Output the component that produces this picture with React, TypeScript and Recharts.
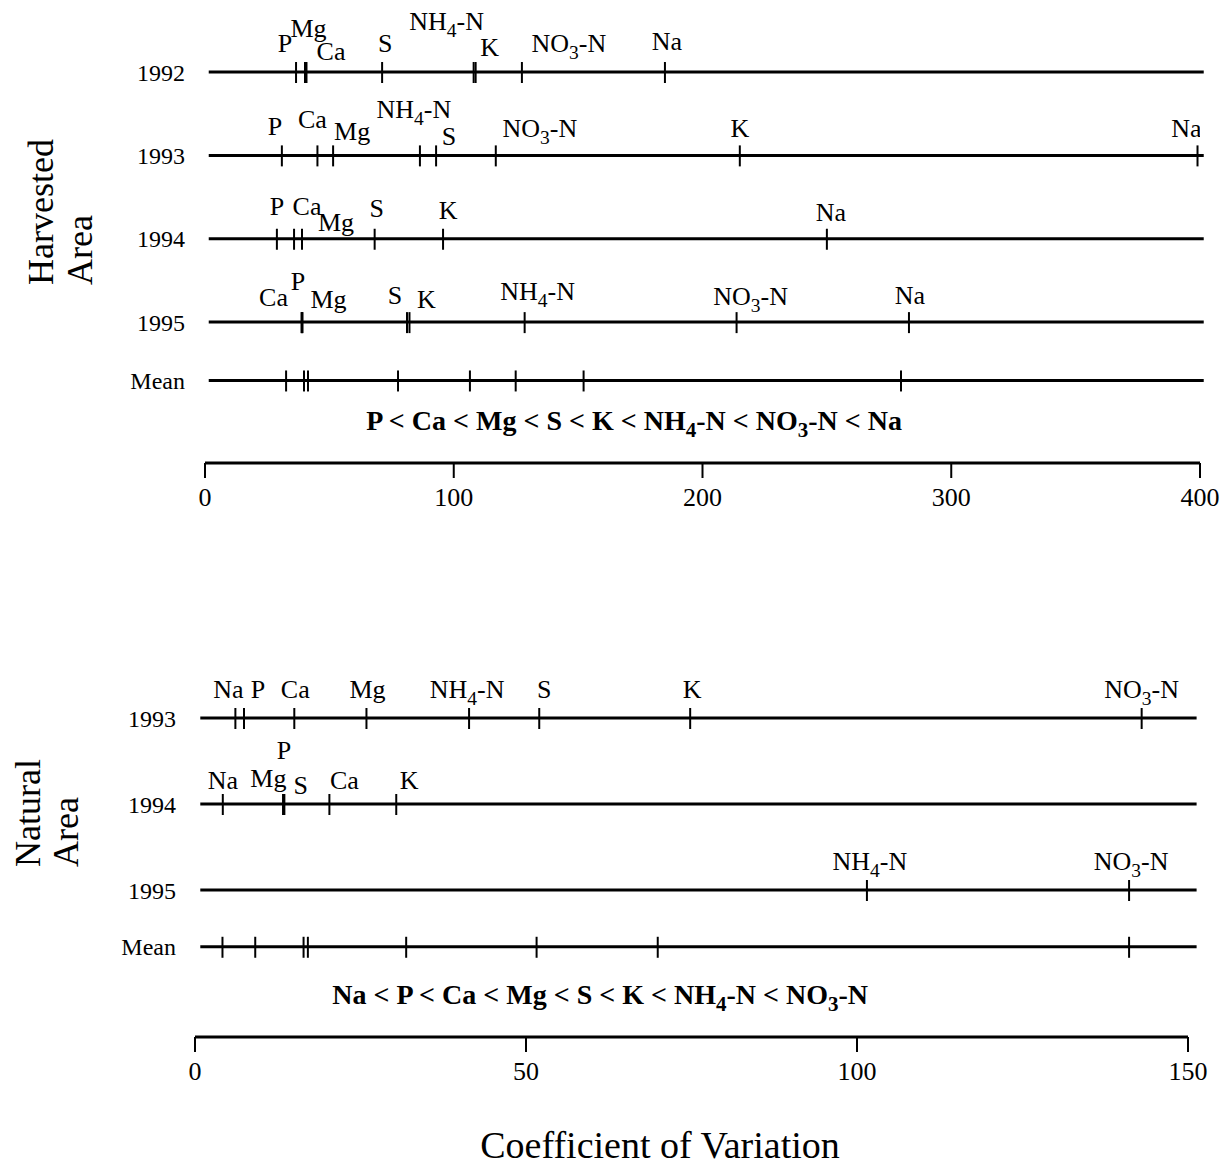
import React from 'react';
import { ScatterChart, Scatter, XAxis, YAxis, ReferenceLine, ReferenceDot } from 'recharts';

const FONT = '"Liberation Serif", "Times New Roman", serif';

// ---------- Harvested area data ----------
const harvestedElements = ['P', 'Ca', 'Mg', 'S', 'K', 'NH4-N', 'NO3-N', 'Na'];
const harvestedRows = ['1992', '1993', '1994', '1995', 'Mean'];
const harvested1992 = [36.6, 40.2, 40.8, 71.2, 108.8, 108.0, 127.4, 184.9];
const harvested1993 = [30.9, 45.2, 51.5, 92.9, 215.0, 86.4, 116.9, 399.0];
const harvested1994 = [28.9, 35.8, 39.0, 68.2, 95.7, null, null, 250.0];
const harvested1995 = [39.0, 38.8, 39.2, 81.2, 82.2, 128.5, 213.7, 283.0];
const harvestedMean = [32.6, 39.8, 41.4, 77.6, 106.5, 124.9, 152.2, 279.8];
const harvestedTicks = [0, 100, 200, 300, 400];
const harvestedRanking = ['P', 'Ca', 'Mg', 'S', 'K', 'NH4-N', 'NO3-N', 'Na'];

// ---------- Natural area data ----------
const naturalElements = ['Na', 'P', 'Ca', 'Mg', 'S', 'K', 'NH4-N', 'NO3-N'];
const naturalRows = ['1993', '1994', '1995', 'Mean'];
const natural1993 = [6.1, 7.4, 15.0, 25.9, 52.0, 74.8, 41.4, 143.0];
const natural1994 = [4.2, 13.3, 20.3, 13.5, 13.4, 30.4, null, null];
const natural1995 = [null, null, null, null, null, null, 101.5, 141.1];
const naturalMean = [4.15, 9.1, 16.4, 17.05, 31.9, 51.6, 69.9, 141.1];
const naturalTicks = [0, 50, 100, 150];
const naturalRanking = ['Na', 'P', 'Ca', 'Mg', 'S', 'K', 'NH4-N', 'NO3-N'];

// ---------- layout (not data) ----------
const harvestedSlots = [0, 1, 2, 3, 3.7];
const naturalSlots = [0, 1, 2, 2.66];

const harvestedLabelOffsets: Record<string, [number, number]> = {
  '1992|P': [-11, 0], '1992|Mg': [2, -15], '1992|Ca': [26, 8], '1992|S': [3, 0],
  '1992|NH4-N': [-27, -22], '1992|K': [14, 4], '1992|NO3-N': [47, 0], '1992|Na': [2, -2],
  '1993|P': [-7, 0], '1993|Ca': [-5, -7], '1993|Mg': [19, 5], '1993|NH4-N': [-6, -17],
  '1993|S': [13, 10], '1993|NO3-N': [44, 2], '1993|K': [0, 2], '1993|Na': [-11, 2],
  '1994|P': [0, -4], '1994|Ca': [13, -4], '1994|Mg': [34, 12], '1994|S': [2, -2],
  '1994|K': [5, 0], '1994|Na': [4, 2],
  '1995|Ca': [-28, 4], '1995|P': [-4, -12], '1995|Mg': [26, 6], '1995|S': [-12, 2],
  '1995|K': [17, 6], '1995|NH4-N': [13, -2], '1995|NO3-N': [14, 3], '1995|Na': [1, 2],
};

const naturalLabelOffsets: Record<string, [number, number]> = {
  '1993|Na': [-7, 0], '1993|P': [14, 0], '1993|Ca': [1, 0], '1993|Mg': [1, 0],
  '1993|NH4-N': [-2, 0], '1993|S': [5, 0], '1993|K': [2, 0], '1993|NO3-N': [0, 0],
  '1994|Na': [0, 5], '1994|Mg': [-16, 3], '1994|P': [1, -25], '1994|S': [17, 10],
  '1994|Ca': [15, 5], '1994|K': [13, 5],
  '1995|NH4-N': [3, 0], '1995|NO3-N': [2, 0],
};

function chem(name: string, sub = 7) {
  const m = name.match(/^(NH|NO)(\d)(-N)$/);
  if (!m) return name;
  return [
    <tspan key="a">{m[1]}</tspan>,
    <tspan key="b" dy={sub} fontSize="0.75em">{m[2]}</tspan>,
    <tspan key="c" dy={-sub}>{m[3]}</tspan>,
  ];
}

function buildRow(values: (number | null)[], elements: string[], slot: number) {
  const out: { x: number; y: number; el: string }[] = [];
  values.forEach((v, j) => {
    if (v !== null && v !== undefined) out.push({ x: v, y: slot, el: elements[j] });
  });
  return out;
}

function makeShape(row: string, offsets: Record<string, [number, number]>, showLabels: boolean) {
  return (props: any) => {
    const { cx, cy, payload } = props;
    if (cx == null || cy == null) return <g />;
    const off = offsets[`${row}|${payload.el}`] || [0, 0];
    return (
      <g>
        <line x1={cx} x2={cx} y1={cy - 10} y2={cy + 11} stroke="#000" strokeWidth={2} />
        {showLabels && (
          <text
            x={cx + off[0]}
            y={cy - 20 + off[1]}
            textAnchor="middle"
            fontSize={26}
            fontFamily={FONT}
            fill="#000"
          >
            {chem(payload.el)}
          </text>
        )}
      </g>
    );
  };
}

function rankingShape(items: string[]) {
  return (props: any) => {
    const { cx, cy } = props;
    const parts: any[] = [];
    items.forEach((it, i) => {
      if (i > 0) parts.push(<tspan key={`lt${i}`}>{' < '}</tspan>);
      const m = it.match(/^(NH|NO)(\d)(-N)$/);
      if (m) {
        parts.push(<tspan key={`a${i}`}>{m[1]}</tspan>);
        parts.push(<tspan key={`b${i}`} dy={7} fontSize="0.75em">{m[2]}</tspan>);
        parts.push(<tspan key={`c${i}`} dy={-7}>{m[3]}</tspan>);
      } else {
        parts.push(<tspan key={`e${i}`}>{it}</tspan>);
      }
    });
    return (
      <text x={cx} y={cy} textAnchor="middle" fontSize={28} fontWeight="bold" fontFamily={FONT} fill="#000">
        {parts}
      </text>
    );
  };
}

const yTickStyle = { fontSize: 24, fill: '#000', fontFamily: FONT };
const xTickStyle = { fontSize: 26, fill: '#000', fontFamily: FONT };

function HarvestedPanel() {
  const series = [harvested1992, harvested1993, harvested1994, harvested1995, harvestedMean];
  const yLabel = (v: number) => {
    const i = harvestedSlots.findIndex((s) => Math.abs(s - v) < 1e-6);
    return i >= 0 ? harvestedRows[i] : '';
  };
  return (
    <ScatterChart width={1224} height={520} margin={{ top: 0, right: 24, bottom: 0, left: 105 }}>
      <XAxis
        type="number"
        dataKey="x"
        domain={[0, 400]}
        ticks={harvestedTicks}
        interval={0}
        allowDataOverflow
        height={57}
        axisLine={{ stroke: '#000', strokeWidth: 3 }}
        tickLine={{ stroke: '#000', strokeWidth: 2 }}
        tickSize={15}
        tickMargin={10}
        tick={xTickStyle}
      />
      <YAxis
        type="number"
        dataKey="y"
        domain={[-0.864, 4.69]}
        reversed
        allowDataOverflow
        ticks={harvestedSlots}
        interval={0}
        tickFormatter={yLabel}
        width={100}
        axisLine={false}
        tickLine={false}
        tickSize={0}
        tickMargin={20}
        tick={yTickStyle}
        label={{
          content: () => (
            <g fontFamily={FONT} fontSize={36} fill="#000">
              <text x={53} y={285} transform="rotate(-90 53 285)" textAnchor="start">Harvested</text>
              <text x={92} y={285} transform="rotate(-90 92 285)" textAnchor="start">Area</text>
            </g>
          ),
        }}
      />
      {harvestedSlots.map((s, i) => (
        <ReferenceLine
          key={`hl${i}`}
          segment={[{ x: 1.5, y: s }, { x: 401.5, y: s }]}
          stroke="#000"
          strokeWidth={3}
          ifOverflow="visible"
        />
      ))}
      {series.map((vals, i) => (
        <Scatter
          key={`hs${i}`}
          data={buildRow(vals, harvestedElements, harvestedSlots[i])}
          isAnimationActive={false}
          shape={makeShape(harvestedRows[i], harvestedLabelOffsets, harvestedRows[i] !== 'Mean')}
        />
      ))}
      <ReferenceDot x={172.5} y={4.3} r={0} ifOverflow="visible" shape={rankingShape(harvestedRanking)} />
    </ScatterChart>
  );
}

function NaturalPanel() {
  const series = [natural1993, natural1994, natural1995, naturalMean];
  const yLabel = (v: number) => {
    const i = naturalSlots.findIndex((s) => Math.abs(s - v) < 1e-6);
    return i >= 0 ? naturalRows[i] : '';
  };
  return (
    <ScatterChart width={1224} height={605} margin={{ top: 0, right: 36, bottom: 0, left: 95 }}>
      <XAxis
        type="number"
        dataKey="x"
        domain={[0, 150]}
        ticks={naturalTicks}
        interval={0}
        allowDataOverflow
        height={128}
        axisLine={{ stroke: '#000', strokeWidth: 3 }}
        tickLine={{ stroke: '#000', strokeWidth: 2 }}
        tickSize={15}
        tickMargin={10}
        tick={xTickStyle}
        label={{
          content: () => (
            <text x={660} y={598} textAnchor="middle" fontFamily={FONT} fontSize={38} fill="#000">
              Coefficient of Variation
            </text>
          ),
        }}
      />
      <YAxis
        type="number"
        dataKey="y"
        domain={[-1.837, 3.709]}
        reversed
        allowDataOverflow
        ticks={naturalSlots}
        interval={0}
        tickFormatter={yLabel}
        width={100}
        axisLine={false}
        tickLine={false}
        tickSize={0}
        tickMargin={19}
        tick={yTickStyle}
        label={{
          content: () => (
            <g fontFamily={FONT} fontSize={36} fill="#000">
              <text x={40} y={307} transform="rotate(-90 40 307)" textAnchor="start">Natural</text>
              <text x={78} y={307} transform="rotate(-90 78 307)" textAnchor="start">Area</text>
            </g>
          ),
        }}
      />
      {naturalSlots.map((s, i) => (
        <ReferenceLine
          key={`nl${i}`}
          segment={[{ x: 0.8, y: s }, { x: 151.3, y: s }]}
          stroke="#000"
          strokeWidth={3}
          ifOverflow="visible"
        />
      ))}
      {series.map((vals, i) => (
        <Scatter
          key={`ns${i}`}
          data={buildRow(vals, naturalElements, naturalSlots[i])}
          isAnimationActive={false}
          shape={makeShape(naturalRows[i], naturalLabelOffsets, naturalRows[i] !== 'Mean')}
        />
      ))}
      <ReferenceDot x={61.2} y={3.33} r={0} ifOverflow="visible" shape={rankingShape(naturalRanking)} />
    </ScatterChart>
  );
}

export default function App() {
  return (
    <div
      style={{
        position: 'absolute',
        left: 0,
        top: 0,
        width: 1224,
        height: 1165,
        background: '#fff',
        overflow: 'hidden',
      }}
    >
      <div style={{ position: 'absolute', left: 0, top: 0 }}>
        <HarvestedPanel />
      </div>
      <div style={{ position: 'absolute', left: 0, top: 560 }}>
        <NaturalPanel />
      </div>
    </div>
  );
}
